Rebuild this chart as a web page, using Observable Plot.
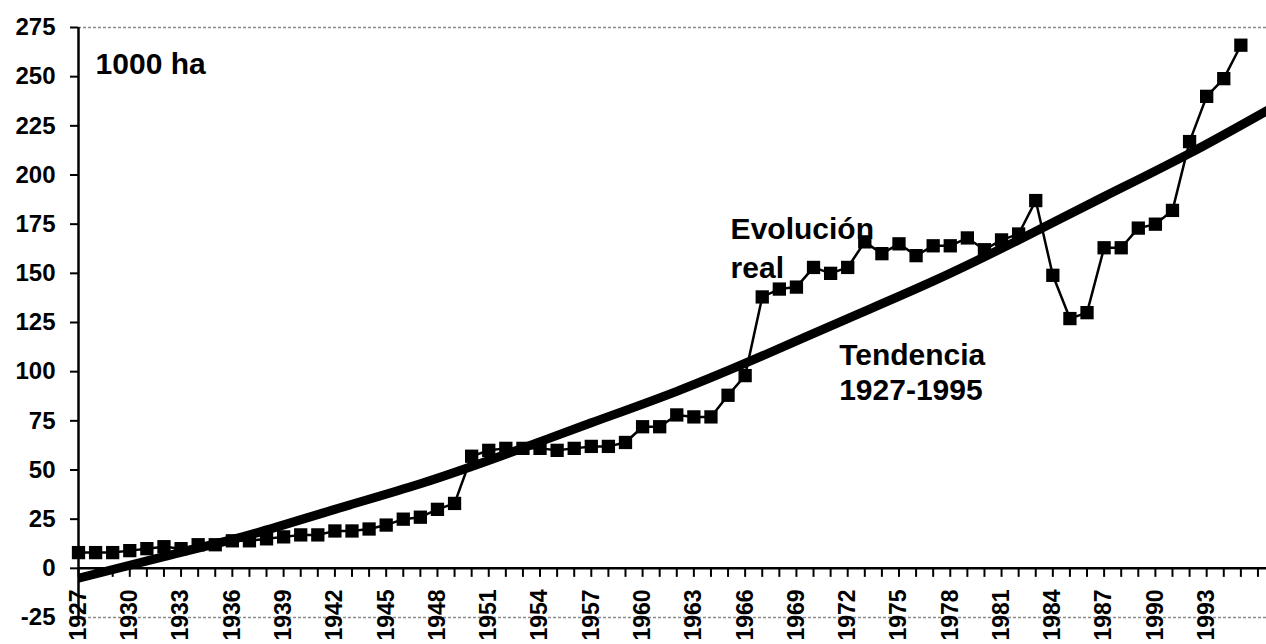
<!DOCTYPE html>
<html>
<head>
<meta charset="utf-8">
<script src="https://cdn.jsdelivr.net/npm/d3@7"></script>
<script src="https://cdn.jsdelivr.net/npm/@observablehq/plot@0.6"></script>
<style>
  html, body { margin: 0; padding: 0; background: white; }
  svg { display: block; }
</style>
</head>
<body>
<script>
// Years of the observed series
const years = [1927,1928,1929,1930,1931,1932,1933,1934,1935,1936,1937,1938,1939,1940,1941,1942,1943,1944,1945,1946,
  1947,1948,1949,1950,1951,1952,1953,1954,1955,1956,1957,1958,1959,1960,1961,1962,1963,1964,1965,1966,
  1967,1968,1969,1970,1971,1972,1973,1974,1975,1976,1977,1978,1979,1980,1981,1982,1983,1984,1985,1986,
  1987,1988,1989,1990,1991,1992,1993,1994,1995];
const realValues = [8,8,8,9,10,11,10,12,12,14,14,15,16,17,17,19,19,20,22,25,
  26,30,33,57,60,61,61,61,60,61,62,62,64,72,72,78,77,77,88,98,
  138,142,143,153,150,153,166,160,165,159,164,164,168,162,167,170,187,149,127,130,
  163,163,173,175,182,217,240,249,266];
// "Tendencia 1927-1995", read at selected years from the picture
const trendYears = [1927,1932,1937,1942,1947,1952,1957,1962,1967,1972,1977,1982,1987,1992,1997];
const trendValues = [-5,6,17,30,43,58,74,90,108,127,146,167,189,211,235];
// Axis ticks
const yTicks = [-25,0,25,50,75,100,125,150,175,200,225,250,275];
const minorTickYears = [1927,1928,1929,1930,1931,1932,1933,1934,1935,1936,1937,1938,1939,1940,1941,1942,1943,1944,1945,1946,
  1947,1948,1949,1950,1951,1952,1953,1954,1955,1956,1957,1958,1959,1960,1961,1962,1963,1964,1965,1966,
  1967,1968,1969,1970,1971,1972,1973,1974,1975,1976,1977,1978,1979,1980,1981,1982,1983,1984,1985,1986,
  1987,1988,1989,1990,1991,1992,1993,1994,1995,1996];
const xLabelYears = [1927,1930,1933,1936,1939,1942,1945,1948,1951,1954,1957,1960,1963,1966,1969,1972,1975,1978,1981,1984,1987,1990,1993];
// Text
const unitLabel = "1000 ha";
const realLabel = "Evolución\nreal";
const trendLabel = "Tendencia\n1927-1995";

const real = years.map((y, i) => ({year: y, value: realValues[i]}));
const trend = trendYears.map((y, i) => ({year: y, value: trendValues[i]}));

const FONT = "'Liberation Sans', Arial, Helvetica, sans-serif";

const chart = Plot.plot({
  width: 1266,
  height: 644,
  marginLeft: 78,
  marginRight: 0,
  marginTop: 27,
  marginBottom: 27,
  x: {domain: [1927, 1996.5], axis: null},
  y: {domain: [-25, 275], axis: null},
  style: {fontFamily: FONT, color: "black", background: "white", overflow: "visible"},
  marks: [
    Plot.ruleY([275, -25], {stroke: "#8a8a8a", strokeWidth: 1.5, strokeDasharray: "3,2"}),
    Plot.axisY({ticks: yTicks, tickSize: 8, tickPadding: 15, tickFormat: d => String(d), label: null,
      fontSize: 24, fontWeight: "bold", strokeWidth: 2}),
    Plot.ruleX([1927], {stroke: "black", strokeWidth: 2.5}),
    Plot.ruleY([0], {stroke: "black", strokeWidth: 2.5}),
    Plot.ruleX(minorTickYears, {x: d => d, y1: 0, y2: -4.6, stroke: "black", strokeWidth: 2}),
    Plot.text(xLabelYears, {x: d => d, y: 0, text: d => String(d), rotate: -90, textAnchor: "end",
      dy: 21, fontSize: 23, fontWeight: "bold", fill: "black"}),
    Plot.line(trend, {x: "year", y: "value", curve: "natural", stroke: "black", strokeWidth: 9, clip: true}),
    Plot.line(real, {x: "year", y: "value", stroke: "black", strokeWidth: 2.5}),
    Plot.dot(real, {x: "year", y: "value", symbol: "square", r: 7.5, fill: "black", stroke: "none"}),
    Plot.text([unitLabel], {x: 1928.0, y: 262, text: d => d, textAnchor: "start", lineAnchor: "top",
      fontSize: 30, fontWeight: "bold", fill: "black"}),
    Plot.text([realLabel], {x: 1965.15, y: 181, text: d => d, textAnchor: "start", lineAnchor: "top",
      lineHeight: 1.27, fontSize: 30, fontWeight: "bold", fill: "black"}),
    Plot.text([trendLabel], {x: 1971.5, y: 116, text: d => d, textAnchor: "start", lineAnchor: "top",
      lineHeight: 1.17, fontSize: 30, fontWeight: "bold", fill: "black"})
  ]
});

document.body.appendChild(chart);
</script>
</body>
</html>
